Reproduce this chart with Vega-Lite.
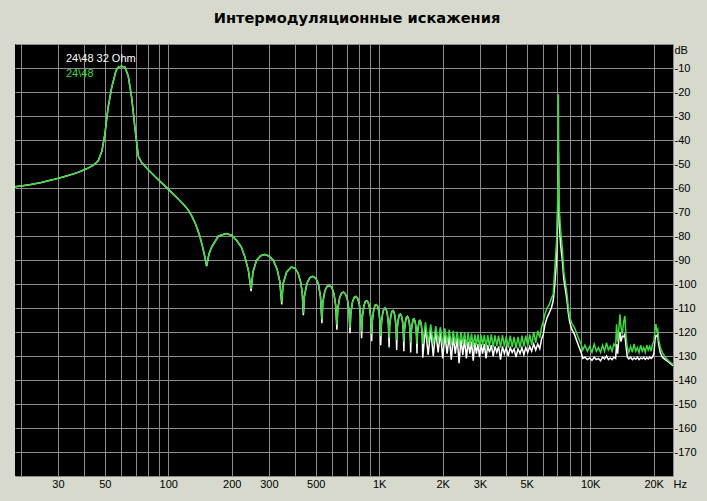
{
  "$schema": "https://vega.github.io/schema/vega-lite/v6.json",
  "autosize": "none",
  "width": 658,
  "height": 432,
  "padding": {"left": 15, "top": 44, "right": 34, "bottom": 25},
  "background": "#D6D9CB",
  "title": {"text": "Интермодуляционные искажения", "font": "DejaVu Sans", "fontSize": 14.6, "fontWeight": "bold", "color": "#000000", "anchor": "middle", "frame": "group", "dx": 13, "dy": 15, "offset": 21, "baseline": "alphabetic"},
  "config": {"view": {"fill": "#000000", "stroke": null}},
  "datasets": {
    "white": [
      {"f":18.77,"db":-59.5},{"f":20,"db":-59.2},{"f":22,"db":-58.6},{"f":25,"db":-57.7},{"f":28.5,"db":-56.5},{"f":32,"db":-55.3},{"f":36.8,"db":-53.7},{"f":41,"db":-52},{"f":44,"db":-50.6},{"f":46.6,"db":-48.7},{"f":48.5,"db":-44.5},{"f":50.1,"db":-37.5},{"f":51.8,"db":-26.7},{"f":53.9,"db":-18.2},{"f":56.5,"db":-11.2},{"f":57.9,"db":-9.6},{"f":60,"db":-9.3},{"f":62.3,"db":-9.6},{"f":64.6,"db":-13.3},{"f":67.1,"db":-22.4},{"f":69.5,"db":-34.9},{"f":72.1,"db":-46.7},{"f":74.8,"db":-49.4},{"f":80,"db":-52.2},{"f":87,"db":-55.4},{"f":94.7,"db":-58.5},{"f":101.9,"db":-61.2},{"f":110,"db":-64.1},{"f":118,"db":-66.8},{"f":124,"db":-69},{"f":129,"db":-71.5},{"f":134,"db":-74.6},{"f":138,"db":-77.5},{"f":141.3,"db":-80.3},{"f":145,"db":-84},{"f":148.5,"db":-88},
      {"f":152,"db":-92.5},{"f":156,"db":-87.5},{"f":160.6,"db":-84.6},{"f":172.6,"db":-80.1},{"f":187.7,"db":-79},{"f":200,"db":-79.7},{"f":211,"db":-81.9},{"f":222,"db":-84.6},{"f":231,"db":-88.8},{"f":240,"db":-94.5},
      {"f":247,"db":-103},{"f":252,"db":-95},{"f":262,"db":-90.2},{"f":274,"db":-88.2},{"f":287,"db":-87.7},{"f":300,"db":-88.3},{"f":315,"db":-90.2},{"f":328,"db":-93.8},{"f":338,"db":-99},
      {"f":345,"db":-108.5},{"f":350,"db":-100},{"f":364,"db":-95},{"f":384,"db":-92.9},{"f":400,"db":-93.6},{"f":413,"db":-95.6},{"f":425,"db":-99.5},{"f":432,"db":-104},
      {"f":437,"db":-113},{"f":442,"db":-105},{"f":455,"db":-99.5},{"f":470,"db":-97.3},{"f":484,"db":-96.8},{"f":500,"db":-97.5},{"f":515,"db":-100},{"f":527,"db":-105.5},
      {"f":535,"db":-116.3},{"f":540,"db":-108},{"f":552,"db":-103},{"f":566,"db":-101},{"f":580,"db":-100.6},{"f":595,"db":-101.3},{"f":610,"db":-104},{"f":622,"db":-109},
      {"f":630,"db":-119},{"f":636,"db":-110.5},{"f":650,"db":-105.5},{"f":665,"db":-103.7},{"f":678,"db":-103.4},{"f":692,"db":-104.2},{"f":707,"db":-106.5},{"f":719,"db":-111},
      {"f":727,"db":-120.5},{"f":733,"db":-112.5},{"f":747,"db":-107.5},{"f":762,"db":-105.5},{"f":776,"db":-105.2},{"f":790,"db":-106},{"f":805,"db":-108.5},{"f":817,"db":-113},
      {"f":825,"db":-122.6},{"f":831,"db":-114},{"f":845,"db":-109.3},{"f":859,"db":-107.3},{"f":873,"db":-107},{"f":887,"db":-107.7},{"f":901,"db":-110},{"f":913,"db":-114.5},
      {"f":921,"db":-123.8},{"f":927,"db":-115.5},{"f":941,"db":-111},{"f":955,"db":-108.9},{"f":969,"db":-108.6},{"f":983,"db":-109.3},{"f":997,"db":-111.5},{"f":1009,"db":-116},
      {"f":1017,"db":-125.5},{"f":1024,"db":-116.5},{"f":1038,"db":-112.3},{"f":1052,"db":-110.3},{"f":1066,"db":-110},{"f":1080,"db":-110.7},{"f":1094,"db":-112.8},{"f":1106,"db":-117},
      {"f":1114,"db":-126.5},{"f":1120,"db":-117.5},{"f":1134,"db":-113.5},{"f":1148,"db":-111.4},{"f":1162,"db":-111.1},{"f":1176,"db":-111.8},{"f":1190,"db":-114},{"f":1202,"db":-118},
      {"f":1210,"db":-127.5},{"f":1217,"db":-118.5},{"f":1231,"db":-114.8},{"f":1246,"db":-112.8},{"f":1260,"db":-112.5},{"f":1274,"db":-113.2},{"f":1289,"db":-115.3},{"f":1300,"db":-119},
      {"f":1309,"db":-128},{"f":1316,"db":-119.5},{"f":1331,"db":-115.8},{"f":1346,"db":-113.8},{"f":1360,"db":-113.5},{"f":1374,"db":-114.2},{"f":1390,"db":-116.3},{"f":1402,"db":-120},
      {"f":1410,"db":-128.5},{"f":1418,"db":-120},{"f":1433,"db":-116.8},{"f":1447,"db":-114.8},{"f":1461,"db":-114.5},{"f":1475,"db":-115.2},{"f":1490,"db":-117.3},{"f":1502,"db":-121},
      {"f":1510,"db":-129},{"f":1518,"db":-120.5},{"f":1533,"db":-117.5},{"f":1547,"db":-115.5},{"f":1560,"db":-115.2},{"f":1574,"db":-115.9},{"f":1588,"db":-118},{"f":1600,"db":-121.5},
      {"f":1608,"db":-130.7},
      {"f":1657,"db":-118},{"f":1706,"db":-129.5},{"f":1755,"db":-119},{"f":1804,"db":-130},{"f":1853,"db":-119.5},{"f":1902,"db":-128.5},{"f":1951,"db":-120},{"f":2000,"db":-131},{"f":2049,"db":-121},{"f":2098,"db":-129},{"f":2147,"db":-121.5},{"f":2196,"db":-131.5},{"f":2245,"db":-122},{"f":2294,"db":-129},{"f":2343,"db":-122.5},{"f":2392,"db":-133},{"f":2441,"db":-123},{"f":2490,"db":-129.5},{"f":2540,"db":-123},{"f":2590,"db":-131},{"f":2640,"db":-124},{"f":2690,"db":-129},{"f":2740,"db":-124},{"f":2790,"db":-132},{"f":2840,"db":-124.5},{"f":2890,"db":-129},{"f":2940,"db":-125},{"f":2990,"db":-130.5},{"f":3040,"db":-125},{"f":3090,"db":-129},{"f":3150,"db":-125},{"f":3210,"db":-131},{"f":3270,"db":-125.5},{"f":3330,"db":-128.5},{"f":3400,"db":-125.5},{"f":3470,"db":-130},{"f":3540,"db":-126},{"f":3610,"db":-128.5},{"f":3680,"db":-126},{"f":3760,"db":-131.5},{"f":3840,"db":-126},{"f":3920,"db":-129},{"f":4000,"db":-126.5},{"f":4090,"db":-130},{"f":4180,"db":-126.5},{"f":4270,"db":-128.5},{"f":4360,"db":-127},{"f":4450,"db":-130.5},{"f":4550,"db":-127},{"f":4650,"db":-129},{"f":4750,"db":-126.5},{"f":4850,"db":-129.5},{"f":4950,"db":-126.5},{"f":5060,"db":-128.5},{"f":5170,"db":-126},{"f":5280,"db":-128},{"f":5400,"db":-125},{"f":5520,"db":-127.5},{"f":5640,"db":-125},{"f":5770,"db":-127},
      {"f":5880,"db":-123},{"f":5995,"db":-121},{"f":6100,"db":-117},{"f":6250,"db":-114},{"f":6400,"db":-112},{"f":6550,"db":-110},{"f":6680,"db":-107},{"f":6800,"db":-100},{"f":6930,"db":-90},{"f":7000,"db":-75},{"f":7040,"db":-60},{"f":7070,"db":-45},{"f":7100,"db":-62},{"f":7150,"db":-76},{"f":7250,"db":-84},{"f":7380,"db":-90},{"f":7500,"db":-98},{"f":7650,"db":-103},{"f":7770,"db":-107},{"f":7880,"db":-112},{"f":8000,"db":-116},{"f":8200,"db":-119},{"f":8430,"db":-121},{"f":8750,"db":-125},{"f":9060,"db":-128.5},
      {"f":9230,"db":-131},{"f":9450,"db":-130.5},{"f":9700,"db":-131.5},{"f":9950,"db":-130.8},{"f":10200,"db":-131.8},{"f":10450,"db":-130.5},{"f":10700,"db":-131.5},{"f":10950,"db":-131},{"f":11200,"db":-132},{"f":11450,"db":-130.5},{"f":11700,"db":-131.2},{"f":11950,"db":-130},{"f":12200,"db":-131.5},{"f":12450,"db":-130.8},{"f":12700,"db":-131.5},{"f":12950,"db":-130.5},{"f":13200,"db":-131},{"f":13340,"db":-125},{"f":13500,"db":-129},{"f":13700,"db":-122},{"f":13840,"db":-120},{"f":14000,"db":-124},{"f":14200,"db":-121.7},{"f":14400,"db":-122},{"f":14600,"db":-121},{"f":14800,"db":-126},{"f":15000,"db":-130.5},{"f":15250,"db":-131.2},{"f":15550,"db":-130.5},{"f":15850,"db":-131.5},{"f":16150,"db":-130.8},{"f":16450,"db":-131.3},{"f":16750,"db":-130.5},{"f":17050,"db":-131.5},{"f":17350,"db":-130.8},{"f":17650,"db":-131.2},{"f":17950,"db":-130.6},{"f":18250,"db":-131.4},{"f":18550,"db":-130.7},{"f":18850,"db":-131.2},{"f":19150,"db":-130.5},{"f":19450,"db":-131},{"f":19750,"db":-130.5},{"f":20050,"db":-129},{"f":20300,"db":-123},{"f":20500,"db":-121.5},{"f":20700,"db":-121.7},{"f":20900,"db":-121},{"f":21100,"db":-125},{"f":21500,"db":-128.6},{"f":22000,"db":-130.5},{"f":22700,"db":-131.5},{"f":23500,"db":-132.5},{"f":24700,"db":-134}
    ],
    "green": [
      {"f":18.77,"db":-59.5},{"f":20,"db":-59.2},{"f":22,"db":-58.6},{"f":25,"db":-57.7},{"f":28.5,"db":-56.5},{"f":32,"db":-55.3},{"f":36.8,"db":-53.7},{"f":41,"db":-52},{"f":44,"db":-50.6},{"f":46.6,"db":-48.7},{"f":48.5,"db":-44.5},{"f":50.1,"db":-37.5},{"f":51.8,"db":-26.7},{"f":53.9,"db":-18.2},{"f":56.5,"db":-11.2},{"f":57.9,"db":-9.6},{"f":60,"db":-9.3},{"f":62.3,"db":-9.6},{"f":64.6,"db":-13.3},{"f":67.1,"db":-22.4},{"f":69.5,"db":-34.9},{"f":72.1,"db":-46.7},{"f":74.8,"db":-49.4},{"f":80,"db":-52.2},{"f":87,"db":-55.4},{"f":94.7,"db":-58.5},{"f":101.9,"db":-61.2},{"f":110,"db":-64.1},{"f":118,"db":-66.8},{"f":124,"db":-69},{"f":129,"db":-71.5},{"f":134,"db":-74.6},{"f":138,"db":-77.5},{"f":141.3,"db":-80.3},{"f":145,"db":-84},{"f":148.5,"db":-88},
      {"f":152,"db":-92.1},{"f":156,"db":-87.5},{"f":160.6,"db":-84.6},{"f":172.6,"db":-80.1},{"f":187.7,"db":-79},{"f":200,"db":-79.7},{"f":211,"db":-81.9},{"f":222,"db":-84.6},{"f":231,"db":-88.8},{"f":240,"db":-94.5},
      {"f":247,"db":-102},{"f":252,"db":-95},{"f":262,"db":-90.2},{"f":274,"db":-88.2},{"f":287,"db":-87.7},{"f":300,"db":-88.3},{"f":315,"db":-90.2},{"f":328,"db":-93.8},{"f":338,"db":-99},
      {"f":345,"db":-107.6},{"f":350,"db":-100},{"f":364,"db":-95},{"f":384,"db":-92.9},{"f":400,"db":-93.6},{"f":413,"db":-95.6},{"f":425,"db":-99.5},{"f":432,"db":-104},
      {"f":437,"db":-112.2},{"f":442,"db":-105},{"f":455,"db":-99.5},{"f":470,"db":-97.3},{"f":484,"db":-96.8},{"f":500,"db":-97.5},{"f":515,"db":-100},{"f":527,"db":-105.5},
      {"f":535,"db":-114.8},{"f":540,"db":-108},{"f":552,"db":-103},{"f":566,"db":-101},{"f":580,"db":-100.6},{"f":595,"db":-101.3},{"f":610,"db":-104},{"f":622,"db":-109},
      {"f":630,"db":-117},{"f":636,"db":-110.5},{"f":650,"db":-105.5},{"f":665,"db":-103.7},{"f":678,"db":-103.4},{"f":692,"db":-104.2},{"f":707,"db":-106.5},{"f":719,"db":-111},
      {"f":727,"db":-118.3},{"f":733,"db":-112.5},{"f":747,"db":-107.5},{"f":762,"db":-105.5},{"f":776,"db":-105.2},{"f":790,"db":-106},{"f":805,"db":-108.5},{"f":817,"db":-113},
      {"f":825,"db":-119.7},{"f":831,"db":-114},{"f":845,"db":-109.3},{"f":859,"db":-107.3},{"f":873,"db":-107},{"f":887,"db":-107.7},{"f":901,"db":-110},{"f":913,"db":-114.5},
      {"f":921,"db":-121},{"f":927,"db":-115.5},{"f":941,"db":-111},{"f":955,"db":-108.9},{"f":969,"db":-108.6},{"f":983,"db":-109.3},{"f":997,"db":-111.5},{"f":1009,"db":-116},
      {"f":1017,"db":-121.8},{"f":1024,"db":-116.5},{"f":1038,"db":-112.3},{"f":1052,"db":-110.3},{"f":1066,"db":-110},{"f":1080,"db":-110.7},{"f":1094,"db":-112.8},{"f":1106,"db":-117},
      {"f":1114,"db":-122.5},{"f":1120,"db":-117.5},{"f":1134,"db":-113.5},{"f":1148,"db":-111.4},{"f":1162,"db":-111.1},{"f":1176,"db":-111.8},{"f":1190,"db":-114},{"f":1202,"db":-118},
      {"f":1210,"db":-123.3},{"f":1217,"db":-118.5},{"f":1231,"db":-114.8},{"f":1246,"db":-112.8},{"f":1260,"db":-112.5},{"f":1274,"db":-113.2},{"f":1289,"db":-115.3},{"f":1300,"db":-119},
      {"f":1309,"db":-124},{"f":1316,"db":-119.5},{"f":1331,"db":-115.8},{"f":1346,"db":-113.8},{"f":1360,"db":-113.5},{"f":1374,"db":-114.2},{"f":1390,"db":-116.3},{"f":1402,"db":-120},
      {"f":1410,"db":-124.5},{"f":1418,"db":-120},{"f":1433,"db":-116.8},{"f":1447,"db":-114.8},{"f":1461,"db":-114.5},{"f":1475,"db":-115.2},{"f":1490,"db":-117.3},{"f":1502,"db":-121},
      {"f":1510,"db":-125},{"f":1518,"db":-120.5},{"f":1533,"db":-117.5},{"f":1547,"db":-115.5},{"f":1560,"db":-115.2},{"f":1574,"db":-115.9},{"f":1588,"db":-118},{"f":1600,"db":-121.5},
      {"f":1608,"db":-125},
      {"f":1657,"db":-116},{"f":1706,"db":-124.5},{"f":1755,"db":-116.8},{"f":1804,"db":-125},{"f":1853,"db":-117.5},{"f":1902,"db":-124},{"f":1951,"db":-118},{"f":2000,"db":-125.5},{"f":2049,"db":-118.5},{"f":2098,"db":-124.5},{"f":2147,"db":-119},{"f":2196,"db":-125.5},{"f":2245,"db":-119.5},{"f":2294,"db":-125},{"f":2343,"db":-119.8},{"f":2392,"db":-126},{"f":2441,"db":-120},{"f":2490,"db":-125},{"f":2540,"db":-120.2},{"f":2590,"db":-126},{"f":2640,"db":-120.5},{"f":2690,"db":-125.5},{"f":2740,"db":-120.7},{"f":2790,"db":-126.3},{"f":2840,"db":-121},{"f":2890,"db":-125.5},{"f":2940,"db":-121},{"f":2990,"db":-126.5},{"f":3040,"db":-121.2},{"f":3090,"db":-125.5},{"f":3150,"db":-121.2},{"f":3210,"db":-126.5},{"f":3270,"db":-121.3},{"f":3330,"db":-126},{"f":3400,"db":-121},{"f":3470,"db":-126.5},{"f":3540,"db":-121.4},{"f":3610,"db":-125.8},{"f":3680,"db":-121.5},{"f":3760,"db":-126.5},{"f":3840,"db":-121.3},{"f":3920,"db":-126},{"f":4000,"db":-121.8},{"f":4090,"db":-126.5},{"f":4180,"db":-121.5},{"f":4270,"db":-126.3},{"f":4360,"db":-122},{"f":4450,"db":-126.8},{"f":4550,"db":-122},{"f":4650,"db":-126.5},{"f":4750,"db":-121.5},{"f":4850,"db":-126},{"f":4950,"db":-121.5},{"f":5060,"db":-125.8},{"f":5170,"db":-121},{"f":5280,"db":-125.5},{"f":5400,"db":-120},{"f":5520,"db":-124.5},{"f":5640,"db":-119.5},{"f":5770,"db":-122.4},
      {"f":5880,"db":-118},{"f":5995,"db":-115.6},{"f":6100,"db":-112.6},{"f":6250,"db":-110},{"f":6400,"db":-108.5},{"f":6550,"db":-106},{"f":6680,"db":-104.3},{"f":6800,"db":-93.2},{"f":6930,"db":-82},{"f":7000,"db":-69.6},{"f":7040,"db":-55.7},{"f":7070,"db":-20.9},{"f":7100,"db":-55.7},{"f":7150,"db":-69.6},{"f":7250,"db":-78},{"f":7380,"db":-84.9},{"f":7500,"db":-95},{"f":7650,"db":-100},{"f":7770,"db":-104.3},{"f":7880,"db":-110},{"f":8000,"db":-114},{"f":8200,"db":-116.5},{"f":8430,"db":-118.2},{"f":8750,"db":-122},{"f":9060,"db":-125.1},
      {"f":9230,"db":-127.5},{"f":9450,"db":-125.5},{"f":9700,"db":-128},{"f":9950,"db":-126},{"f":10200,"db":-128.5},{"f":10450,"db":-125},{"f":10700,"db":-128},{"f":10950,"db":-126.5},{"f":11200,"db":-128.5},{"f":11450,"db":-125.5},{"f":11700,"db":-128},{"f":11950,"db":-124.5},{"f":12200,"db":-127.5},{"f":12450,"db":-126},{"f":12700,"db":-128},{"f":12950,"db":-125},{"f":13200,"db":-126},{"f":13340,"db":-116.8},{"f":13500,"db":-124},{"f":13700,"db":-118},{"f":13840,"db":-112.6},{"f":14000,"db":-118},{"f":14200,"db":-121},{"f":14400,"db":-116},{"f":14600,"db":-113.3},{"f":14800,"db":-122},{"f":15000,"db":-126.5},{"f":15250,"db":-128.5},{"f":15550,"db":-126},{"f":15850,"db":-128.5},{"f":16150,"db":-125},{"f":16450,"db":-128},{"f":16750,"db":-126.5},{"f":17050,"db":-128.6},{"f":17350,"db":-125.5},{"f":17650,"db":-128},{"f":17950,"db":-126.5},{"f":18250,"db":-128.5},{"f":18550,"db":-125.5},{"f":18850,"db":-127.5},{"f":19150,"db":-126},{"f":19450,"db":-128},{"f":19750,"db":-125},{"f":20050,"db":-124},{"f":20300,"db":-119},{"f":20500,"db":-116.7},{"f":20700,"db":-119.6},{"f":20900,"db":-118.9},{"f":21100,"db":-123},{"f":21500,"db":-126.5},{"f":22000,"db":-128.6},{"f":22700,"db":-130.5},{"f":23500,"db":-132},{"f":24700,"db":-133.5}
    ]
  },
  "encoding": {
    "x": {
      "field": "f", "type": "quantitative",
      "scale": {"type": "log", "domain": [18.77, 24700], "nice": false},
      "axis": {
        "orient": "bottom",
        "title": null,
        "values": [20,30,40,50,60,70,80,90,100,200,300,400,500,600,700,800,900,1000,2000,3000,4000,5000,6000,7000,8000,9000,10000,20000,24700],
        "labelExpr": "datum.value > 24000 ? 'Hz' : (indexof([30,50,100,200,300,500,1000,2000,3000,5000,10000,20000], datum.value) >= 0 ? (datum.value >= 1000 ? (datum.value / 1000) + 'K' : '' + datum.value) : '')",
        "labelAlign": {"condition": {"test": "datum.value > 24000", "value": "left"}, "value": "center"},
        "labelFont": "Liberation Sans",
        "labelFontSize": 11,
        "labelColor": "#000000",
        "labelPadding": 2,
        "labelOverlap": false,
        "labelFlush": false,
        "labelBound": false,
        "ticks": false,
        "domain": false,
        "grid": true,
        "gridColor": "#8c8c8c",
        "gridWidth": 1
      }
    },
    "y": {
      "field": "db", "type": "quantitative",
      "scale": {"domain": [-180, 0], "nice": false, "zero": false},
      "axis": {
        "orient": "right",
        "title": null,
        "values": [0,-10,-20,-30,-40,-50,-60,-70,-80,-90,-100,-110,-120,-130,-140,-150,-160,-170,-180],
        "labelExpr": "datum.value == 0 ? 'dB' : (datum.value == -180 ? '' : '' + datum.value)",
        "labelBaseline": {"condition": {"test": "datum.value == 0", "value": "top"}, "value": "middle"},
        "labelFont": "Liberation Sans",
        "labelFontSize": 11,
        "labelColor": "#000000",
        "labelPadding": 1,
        "labelOverlap": false,
        "labelFlush": false,
        "labelBound": false,
        "ticks": false,
        "domain": false,
        "grid": true,
        "gridColor": "#8c8c8c",
        "gridWidth": 1
      }
    }
  },
  "layer": [
    {
      "data": {"name": "white"},
      "mark": {"type": "line", "strokeWidth": 1.5, "clip": true},
      "encoding": {
        "color": {
          "datum": "24\\48 32 Ohm",
          "type": "nominal",
          "scale": {"domain": ["24\\48 32 Ohm", "24\\48"], "range": ["#ffffff", "#40d840"]},
          "legend": {
            "orient": "none", "legendX": 40, "legendY": 9,
            "title": null, "symbolOpacity": 0, "symbolSize": 0, "symbolStrokeWidth": 0,
            "labelOffset": 0, "labelFont": "Liberation Sans", "labelFontSize": 11,
            "rowPadding": 3.5, "padding": 0,
            "encode": {"labels": {"update": {"fill": {"scale": "color", "field": "value"}}}}
          }
        }
      }
    },
    {
      "data": {"name": "green"},
      "mark": {"type": "line", "strokeWidth": 1.5, "clip": true},
      "encoding": {
        "color": {"datum": "24\\48", "type": "nominal"}
      }
    }
  ]
}
